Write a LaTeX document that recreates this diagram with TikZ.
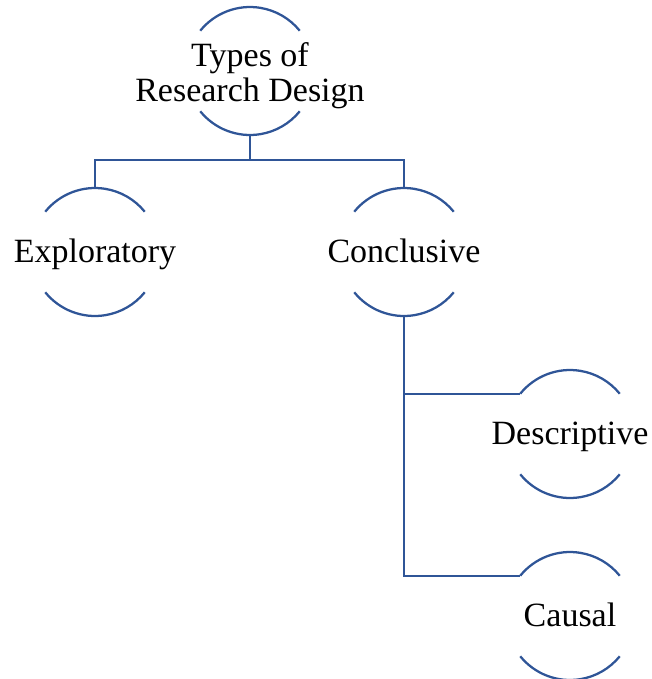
\documentclass[tikz,border=0pt]{standalone}
\usepackage{fontspec}
\setmainfont{Liberation Serif}
\definecolor{designblue}{RGB}{47,85,151}
\tikzset{every picture/.style={line width=0.75pt}}
\tikzset{
	ring/.style={circle, draw=none, inner sep=0pt, outer sep=0pt, minimum size=96pt},
	caption/.style={font=\fontsize{25.5}{26}\selectfont, align=center, inner sep=0.75pt},
	baseline caption/.style={caption, anchor=base, yshift=-8pt},
	blueline/.style={draw=designblue, line width=1.7pt}
}

\begin{document}
\begin{tikzpicture}[x=0.75pt,y=0.75pt,yscale=-1,xscale=1]
	\useasboundingbox (0,0) rectangle (652,679);

	%Shape: Rings
	\node [ring] (design) at (250,71) {};
	\node [ring] (explore) at (95,252) {};
	\node [ring] (conclude) at (404,252) {};
	\node [ring] (describe) at (570,434) {};
	\node [ring] (causal) at (570,616) {};

	%Shape: Arcs above and below each ring
	\foreach \n in {design,explore,conclude,describe,causal} {
		\draw [blueline] (\n.141) arc [start angle=219, end angle=321, radius=64];
		\draw [blueline] (\n.219) arc [start angle=141, end angle=39, radius=64];
	}

	%Straight Lines
	\coordinate (split) at (250,160);
	\draw [blueline] (design.south) -- (split);
	\draw [blueline] (explore.north) |- (split) -| (conclude.north);
	\draw [blueline] (conclude.south) |- (describe.141);
	\draw [blueline] (conclude.south) |- (causal.141);

	% Text Node
	\node [caption, yshift=-3.5pt] (designtext) at (design.center) {Types of\\Research Design};
	% Text Node
	\node [baseline caption] (exploretext) at (explore.center) {Exploratory};
	% Text Node
	\node [baseline caption] (concludetext) at (conclude.center) {Conclusive};
	% Text Node
	\node [baseline caption] (describetext) at (describe.center) {Descriptive};
	% Text Node
	\node [baseline caption] (causaltext) at (causal.center) {Causal};

\end{tikzpicture}
\end{document}
